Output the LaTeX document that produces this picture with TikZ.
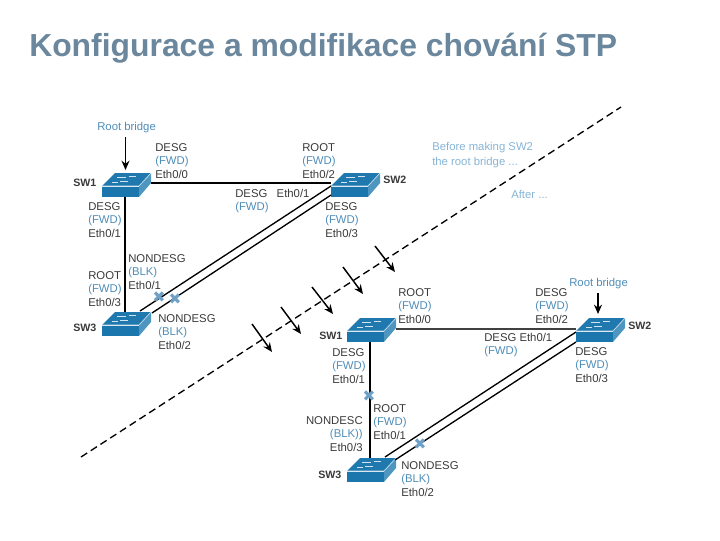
\documentclass[tikz,border=0pt]{standalone}
\usepackage{fontspec}
\setmainfont{Liberation Sans}
\newfontfamily\symfont{DejaVu Sans}
\usetikzlibrary{arrows.meta}
\definecolor{titlec}{HTML}{6A879D}
\definecolor{txt}{HTML}{3A3A3A}
\definecolor{fwdc}{HTML}{4F8DB8}
\definecolor{notec}{HTML}{86B4D6}
\definecolor{swtop}{HTML}{1F78AE}
\definecolor{swfront}{HTML}{1B76AD}
\definecolor{swside}{HTML}{4E96C0}
\definecolor{xc}{HTML}{6FA0C6}
\newcommand{\fw}[1]{\textcolor{fwdc}{#1}}
\newcommand{\swicon}[3]{%
  \node[swbox] (#1) at (#2,#3) {};
  \begin{scope}[shift={(#2,#3)}]
    \fill[swtop] (-24,1) -- (-11,-12) -- (25,-12) -- (13,1) -- cycle;
    \fill[swfront] (-24,1.6) rectangle (13,12);
    \fill[swside] (13,1) -- (25,-12) -- (25,-2) -- (13,12) -- cycle;
    \draw[white!75!swtop,line width=.5pt] (-24,1) -- (13,1) -- (25,-12);
    \draw[white!80!swtop,line width=.7pt] (-9,-8) -- (0,-8) (3,-9) -- (10,-9)
       (-6,-4) -- (2,-4) (-14,-3) -- (-8,-3);
  \end{scope}}
\tikzset{
  x=0.75pt,y=-0.75pt,
  swbox/.style={inner sep=0pt,minimum width=36pt,minimum height=18pt},
  lbl/.style={anchor=west,inner sep=0pt,align=left,text=txt,font=\fontsize{8.5}{10.4}\selectfont},
  lblr/.style={lbl,align=right},
  swname/.style={anchor=west,inner sep=0pt,text=txt,font=\fontsize{8}{10}\selectfont\bfseries},
  rootb/.style={anchor=west,inner sep=0pt,text=fwdc,font=\fontsize{8.5}{10.4}\selectfont},
  note/.style={anchor=west,inner sep=0pt,align=left,text=notec,font=\fontsize{8.5}{10.8}\selectfont},
  link/.style={line width=1.3pt,black},
  linkthin/.style={line width=1pt,black},
  linkmid/.style={line width=.9pt,black!75},
  mark x/.style={inner sep=0pt,text=xc,font=\symfont\fontsize{11.5}{11.5}\selectfont},
  arr/.style={line width=1.1pt,black,-{Stealth[length=7pt,width=6pt]}},
}
\begin{document}
\begin{tikzpicture}
\useasboundingbox (0,0) rectangle (720,540);
\node[anchor=west,inner sep=0pt,text=titlec,font=\fontsize{23.9}{28}\selectfont\bfseries] (title) at (29,48) {Konfigurace a modifikace chování STP};

% dashed separator
\coordinate (da) at (81,457);
\coordinate (db) at (621,107);
\draw[black,line width=1pt,dash pattern=on 5.5pt off 3.2pt] (da) -- (db);

% switches
\swicon{osw1}{126}{185}
\swicon{osw2}{355}{185}
\swicon{osw3}{126}{324}
\swicon{nsw1}{371}{330}
\swicon{nsw2}{600}{330}
\swicon{nsw3}{371}{470}

% links before
\draw[link] ([shift={(25,-2)}]osw1.center) -- ([shift={(-24,-2)}]osw2.center);
\draw[link] ([shift={(-1,12)}]osw1.center) -- ([shift={(-1,-12)}]osw3.center);
\draw[linkthin] ([shift={(-24,1)}]osw2.center) -- ([shift={(14,-13)}]osw3.center);
\draw[linkthin] ([shift={(-24,10)}]osw2.center) -- ([shift={(26,-11)}]osw3.center);
% links after
\draw[linkmid] ([shift={(25,-1)}]nsw1.center) -- ([shift={(-24,-1)}]nsw2.center);
\draw[link] ([shift={(-1,12)}]nsw1.center) -- ([shift={(-1,-12)}]nsw3.center);
\draw[linkthin] ([shift={(-24,2)}]nsw2.center) -- ([shift={(14,-13)}]nsw3.center);
\draw[linkthin] ([shift={(-24,12)}]nsw2.center) -- ([shift={(24,-10)}]nsw3.center);

% block marks
\node[mark x] (x1) at (159,297) {✖};
\node[mark x] (x2) at (175,299) {✖};
\node[mark x] (x3) at (369,396) {✖};
\node[mark x] (x4) at (420,444) {✖};

% crossing arrows
\foreach \n/\ax/\ay/\bx/\by in {1/252/324/272/352,2/281/307/301/334,3/312/287/333/314,4/343/267/363/294,5/375/246/395/272}{
  \coordinate (cs\n) at (\ax,\ay);
  \coordinate (ce\n) at (\bx,\by);
  \draw[arr] (cs\n) -- (ce\n);
}

% before labels
\node[rootb] (rb1) at (97,128) {Root bridge};
\draw[arr] ([shift={(-0.5,-48)}]osw1.center) coordinate (rb1s) -- ([shift={(-0.5,-15)}]osw1.center);
\node[swname] (n1) at (73,183) {SW1};
\node[swname] (n2) at (383,180) {SW2};
\node[swname] (n3) at (73,328) {SW3};
\node[lbl] (a1) at (155,161) {DESG\\\fw{(FWD)}\\Eth0/0};
\node[lbl] (a2) at (88,220) {DESG\\\fw{(FWD)}\\Eth0/1};
\node[lbl] (a3) at (302,161) {ROOT\\\fw{(FWD)}\\Eth0/2};
\node[lbl] (a4) at (235,201) {DESG\hspace{7pt}Eth0/1\\\fw{(FWD)}};
\node[lbl] (a5) at (325,220) {DESG\\\fw{(FWD)}\\Eth0/3};
\node[lbl] (a6) at (128,272) {NONDESG\\\fw{(BLK)}\\Eth0/1};
\node[lbl] (a7) at (88,289) {ROOT\\\fw{(FWD)}\\Eth0/3};
\node[lbl] (a8) at (158,332) {NONDESG\\\fw{(BLK)}\\Eth0/2};
\node[note] (t1) at (432,155) {Before making SW2\\the root bridge ...};
\node[note] (t2) at (511,194) {After ...};

% after labels
\node[rootb] (rb2) at (569,284) {Root bridge};
\draw[arr] ([shift={(-2,-37)}]nsw2.center) coordinate (rb2s) -- ([shift={(-2,-16)}]nsw2.center);
\node[swname] (n4) at (319,336) {SW1};
\node[swname] (n5) at (628,326) {SW2};
\node[swname] (n6) at (318,475) {SW3};
\node[lbl] (b1) at (398,306) {ROOT\\\fw{(FWD)}\\Eth0/0};
\node[lbl] (b2) at (332,366) {DESG\\\fw{(FWD)}\\Eth0/1};
\node[lbl] (b3) at (535,306) {DESG\\\fw{(FWD)}\\Eth0/2};
\node[lbl] (b4) at (484,345) {DESG Eth0/1\\\fw{(FWD)}};
\node[lbl] (b5) at (575,365) {DESG\\\fw{(FWD)}\\Eth0/3};
\node[lbl] (b6) at (373,422) {ROOT\\\fw{(FWD)}\\Eth0/1};
\node[lblr,anchor=east] (b7) at (363,434) {NONDESC\\\fw{(BLK))}\\Eth0/3};
\node[lbl] (b8) at (401,479) {NONDESG\\\fw{(BLK)}\\Eth0/2};
\end{tikzpicture}
\end{document}
